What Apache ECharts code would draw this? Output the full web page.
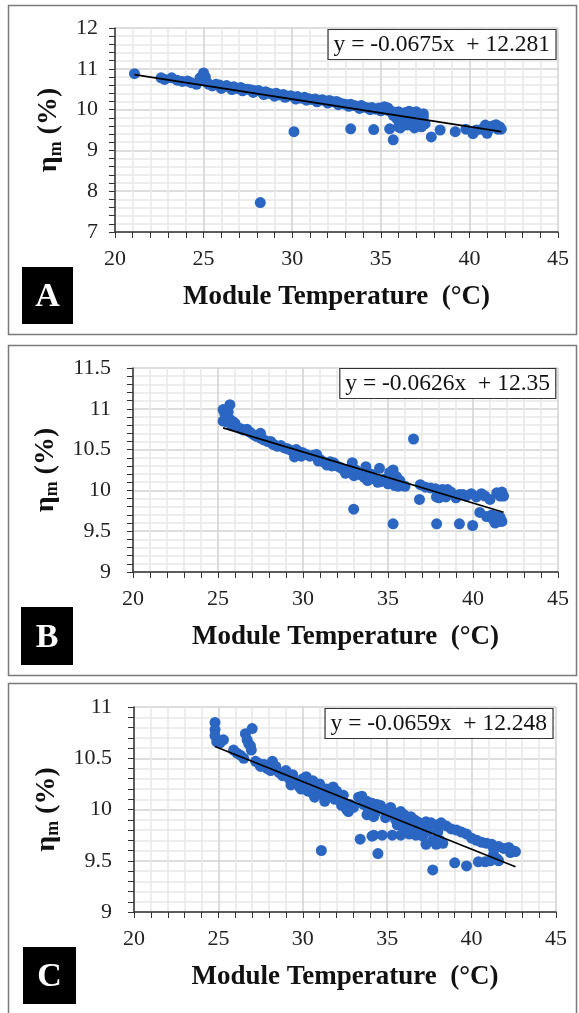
<!DOCTYPE html>
<html>
<head>
<meta charset="utf-8">
<script src="https://cdn.jsdelivr.net/npm/echarts@6/dist/echarts.min.js"></script>
<style>
  html, body { margin: 0; padding: 0; background: #fff; }
  #chart { width: 579px; height: 1013px; }
</style>
</head>
<body>
<div id="chart"></div>
<script>
// panel A: module temperature (C), efficiency (%)
var pointsA = [
  [21.1,10.88],[22.6,10.78],[22.8,10.74],[23.2,10.78],[23.5,10.72],[23.8,10.69],[24.1,10.70],[24.3,10.66],
  [24.6,10.62],[24.8,10.78],[24.9,10.72],[25.0,10.90],[24.95,10.84],[25.1,10.80],[25.2,10.66],[25.3,10.62],
  [25.5,10.58],[25.7,10.62],[25.9,10.60],[26.1,10.56],[26.3,10.59],[26.5,10.54],[26.7,10.56],[26.9,10.52],
  [27.1,10.54],[27.3,10.50],[27.5,10.50],[27.7,10.48],[27.9,10.46],[28.1,10.47],[28.3,10.42],[28.5,10.44],
  [28.7,10.40],[28.9,10.38],[29.1,10.40],[29.3,10.36],[29.5,10.37],[29.7,10.33],[29.9,10.34],[30.1,10.31],
  [30.3,10.32],[30.5,10.28],[30.7,10.30],[30.9,10.27],[31.1,10.25],[31.3,10.26],[31.5,10.22],[31.7,10.24],
  [31.9,10.21],[32.1,10.22],[32.3,10.19],[32.5,10.20],[32.7,10.16],[32.9,10.14],[33.1,10.12],[33.3,10.13],
  [33.5,10.10],[33.7,10.08],[33.9,10.10],[34.1,10.06],[34.3,10.04],[34.5,10.05],[34.7,10.01],[34.9,10.04],
  [35.1,10.02],[35.3,10.05],[35.4,9.98],[35.6,9.96],[35.8,9.92],[36.0,9.95],[36.2,9.90],[36.4,9.93],
  [36.5,9.85],[36.6,9.96],[36.7,9.80],[36.8,9.92],[36.9,9.70],[37.0,9.95],[37.1,9.62],[37.2,9.88],
  [37.3,9.75],[37.4,9.90],[37.5,9.65],[37.3,9.58],[36.9,9.55],[36.5,9.62],[36.2,9.70],[35.9,9.78],
  [36.0,9.58],[37.1,9.80],[36.7,9.65],[37.4,9.82],[36.3,9.82],[35.7,9.86],
  [26.0,10.52],[26.6,10.49],[27.2,10.46],[27.8,10.42],[28.4,10.37],[29.0,10.33],[29.6,10.30],[30.2,10.26],
  [30.8,10.23],[31.4,10.19],[32.0,10.16],[32.6,10.12],[33.2,10.08],[33.8,10.03],[34.4,10.00],[35.0,9.97],
  [35.2,10.07],[35.4,10.04],
  [28.2,7.72],[30.1,9.46],[33.3,9.53],[34.6,9.51],[35.5,9.53],[35.7,9.26],[36.1,9.55],[37.85,9.33],
  [38.35,9.50],[39.2,9.46],[39.8,9.52],[40.2,9.41],[40.4,9.50],[40.7,9.52],[40.9,9.62],[41.0,9.42],
  [41.2,9.56],[41.3,9.60],[41.5,9.63],[41.6,9.52],[41.7,9.58],[41.8,9.52],[40.95,9.48]
];
var pointsB = [
  [25.3,10.99],[25.3,10.85],[25.4,10.94],[25.5,10.91],[25.6,10.96],[25.7,11.05],[25.7,10.87],[25.8,10.80],
  [25.9,10.84],[26.1,10.78],[26.3,10.76],[26.5,10.74],[26.7,10.75],[26.9,10.71],[27.1,10.68],[27.3,10.66],
  [27.5,10.70],[27.5,10.64],[27.7,10.62],[27.9,10.60],[28.1,10.60],[28.3,10.56],[28.5,10.54],[28.7,10.55],
  [28.9,10.52],[29.1,10.51],[29.3,10.49],[29.5,10.41],[29.6,10.50],[29.8,10.47],[30.0,10.46],[30.2,10.44],
  [30.4,10.42],[30.6,10.43],[30.8,10.44],[31.0,10.38],[31.2,10.35],[31.4,10.31],[31.6,10.35],[31.8,10.34],
  [32.0,10.30],[32.2,10.28],[32.4,10.25],[32.6,10.26],[32.8,10.22],[32.9,10.34],[33.0,10.18],[33.2,10.22],
  [33.4,10.19],[33.6,10.16],[33.7,10.29],[33.9,10.18],[34.1,10.15],[34.3,10.13],[34.5,10.27],[34.6,10.11],
  [34.8,10.14],[34.9,10.11],[35.1,10.22],[35.2,10.09],[35.3,10.25],[35.4,10.06],[35.5,10.17],[35.7,10.12],
  [36.0,10.05],[36.5,10.63],[36.85,9.89],[36.9,10.07],[37.2,10.04],[37.5,10.03],[37.8,10.02],[37.85,9.92],
  [38.0,9.91],[38.2,10.01],[38.4,9.92],[38.5,10.01],[38.7,9.98],[39.0,9.91],[39.2,9.95],[39.4,9.95],
  [39.6,9.93],[39.9,9.96],[40.2,9.92],[40.5,9.96],[40.7,9.93],[40.4,9.73],[40.8,9.68],[41.0,9.89],
  [41.1,9.70],[41.2,9.64],[41.3,9.60],[41.4,9.97],[41.5,9.62],[41.6,9.93],[41.6,9.67],[41.7,9.98],
  [41.8,9.93],[41.7,9.62],[41.4,9.68],
  [30.9,10.36],[31.7,10.30],[32.5,10.21],[33.1,10.25],[34.0,10.20],[34.4,10.10],[35.0,10.08],[35.6,10.05],
  [33.8,10.12],[29.9,10.42],[28.2,10.57],[26.0,10.82],[25.5,10.84],
  [32.98,9.77],[35.3,9.59],[37.86,9.59],[39.2,9.59],[39.98,9.57]
];
var pointsC = [
  [24.8,10.85],[24.8,10.78],[24.8,10.72],[24.9,10.66],[25.1,10.65],[25.3,10.68],[25.9,10.58],[26.1,10.55],
  [26.3,10.53],[26.5,10.50],[26.6,10.74],[26.7,10.68],[26.8,10.64],[26.9,10.62],[27.0,10.79],[26.95,10.58],
  [27.2,10.47],[27.4,10.45],[27.5,10.42],[27.7,10.44],[27.9,10.40],[28.1,10.38],[28.2,10.47],[28.4,10.42],
  [28.6,10.36],[28.8,10.33],[29.0,10.38],[29.2,10.30],[29.4,10.34],[29.5,10.27],[29.7,10.25],[29.8,10.22],
  [30.0,10.30],[30.2,10.32],[30.4,10.24],[30.5,10.17],[30.6,10.28],[30.8,10.22],[31.0,10.25],[31.2,10.14],
  [31.4,10.20],[31.6,10.20],[31.8,10.22],[32.0,10.18],[32.2,10.10],[32.4,10.14],[32.5,10.06],[32.6,10.00],
  [32.8,10.05],[33.0,10.02],[33.3,10.12],[33.5,10.13],[33.8,10.08],[33.8,9.95],[33.9,10.00],[34.1,10.06],
  [34.2,9.93],[34.4,10.05],[34.6,10.04],[34.8,10.00],[35.0,9.95],[35.2,10.02],[35.4,9.97],[35.6,9.92],
  [35.8,9.98],[36.0,9.95],[36.2,9.90],[36.4,9.93],[36.6,9.90],[36.8,9.88],[37.0,9.86],[37.3,9.88],
  [37.6,9.87],[37.9,9.85],[38.2,9.87],[38.5,9.84],[38.8,9.81],[39.1,9.80],[39.4,9.78],[39.7,9.76],
  [40.0,9.72],[40.3,9.70],[40.6,9.68],[40.9,9.67],[41.2,9.66],[41.6,9.64],[41.9,9.62],[42.2,9.63],
  [42.4,9.60],[42.6,9.59],[42.3,9.58],
  [29.3,10.24],[29.9,10.20],[30.3,10.18],[30.9,10.15],[31.5,10.12],[31.9,10.10],[32.3,10.04],[32.7,9.98],
  [33.6,10.05],[34.3,9.97],[34.9,9.92],[35.5,9.90],[36.1,9.86],[36.9,9.83],[30.7,10.12],[31.3,10.08],
  [34.2,9.75],[34.7,9.75],[35.3,9.75],[35.8,9.75],[36.3,9.76],[36.7,9.75],[37.1,9.74],[37.3,9.66],
  [37.7,9.70],[37.9,9.66],[38.1,9.70],[38.3,9.67],[36.0,9.82],[35.6,9.85],[36.5,9.82],[37.0,9.80],
  [37.4,9.79],[38.0,9.78],
  [31.1,9.60],[33.4,9.71],[34.1,9.74],[34.45,9.57],[37.7,9.41],[39.0,9.48],[39.7,9.45],[40.4,9.49],
  [40.8,9.49],[41.1,9.50],[41.3,9.56],[41.5,9.52],[41.3,9.62],[41.6,9.50]
];
// trendline coefficients [slope, intercept] as printed
var fitA = [-0.0675, 12.281];
var fitB = [-0.0626, 12.35];
var fitC = [-0.0659, 12.248];
var equations = ["y = -0.0675x  + 12.281", "y = -0.0626x  + 12.35", "y = -0.0659x  + 12.248"];
var letters = ["A", "B", "C"];
var yRanges = [[7, 12, 1], [9, 11.5, 0.5], [9, 11, 0.5]];

var serif = "'Liberation Serif', 'Times New Roman', serif";
var dotColor = "#2b66c2";

function trend(points, fit) {
  var xs = points.map(function (p) { return p[0]; });
  var lo = Math.min.apply(null, xs);
  var hi = Math.max.apply(null, xs);
  return [[lo, fit[0] * lo + fit[1]], [hi, fit[0] * hi + fit[1]]];
}

var grids = [
  { left: 115, top: 28, width: 443, height: 204 },
  { left: 133, top: 368, width: 425, height: 204 },
  { left: 134, top: 707, width: 422, height: 205 }
];
var yNameGap = [46, 64, 63];
var yLabelMargin = [17, 22, 22];

function xAxisFor(i) {
  return {
    type: "value", gridIndex: i, min: 20, max: 45, interval: 5,
    name: "Module Temperature  (\u00B0C)", nameLocation: "middle", nameGap: 52,
    nameTextStyle: { fontFamily: serif, fontWeight: "bold", fontSize: 27, color: "#111" },
    axisLine: { show: true, onZero: false, lineStyle: { color: "#333", width: 1.5 } },
    axisTick: { show: true, length: 6, lineStyle: { color: "#333" } },
    minorTick: { show: true, splitNumber: 5, length: 6, lineStyle: { color: "#333" } },
    axisLabel: { fontFamily: serif, fontSize: 22, color: "#222", margin: 16 },
    splitLine: { show: true, lineStyle: { color: "#d2d2d2", width: 1.5 } },
    minorSplitLine: { show: true, lineStyle: { color: "#e8e8e8", width: 1.5 } }
  };
}

function yAxisFor(i) {
  var r = yRanges[i];
  return {
    type: "value", gridIndex: i, min: r[0], max: r[1], interval: r[2],
    name: "{e|\u03B7}{s|m}{e| (%)}", nameLocation: "middle", nameGap: yNameGap[i], nameRotate: 90,
    nameTextStyle: {
      rich: {
        e: { fontFamily: serif, fontWeight: "bold", fontSize: 28, color: "#111", lineHeight: 32 },
        s: { fontFamily: serif, fontWeight: "bold", fontSize: 18, color: "#111", verticalAlign: "bottom", lineHeight: 20 }
      }
    },
    axisLine: { show: true, onZero: false, lineStyle: { color: "#333", width: 1.5 } },
    axisTick: { show: true, length: 6, lineStyle: { color: "#333" } },
    minorTick: { show: true, splitNumber: 5, length: 6, lineStyle: { color: "#333" } },
    axisLabel: { fontFamily: serif, fontSize: 22, color: "#222", margin: yLabelMargin[i] },
    splitLine: { show: true, lineStyle: { color: "#d2d2d2", width: 1.5 } },
    minorSplitLine: { show: true, lineStyle: { color: "#e8e8e8", width: 1.5 } }
  };
}

var allPoints = [pointsA, pointsB, pointsC];
var fits = [fitA, fitB, fitC];
var series = [];
for (var i = 0; i < 3; i++) {
  series.push({
    type: "scatter", xAxisIndex: i, yAxisIndex: i, data: allPoints[i],
    symbolSize: 11, itemStyle: { color: dotColor, opacity: 1 }, z: 3
  });
  series.push({
    type: "line", xAxisIndex: i, yAxisIndex: i, data: trend(allPoints[i], fits[i]),
    symbol: "none", lineStyle: { color: "#000", width: 1.6 }, z: 4
  });
}

var eqRight = [23, 23, 26];
var eqTop = [29, 368, 708];
var titles = [];
for (var j = 0; j < 3; j++) {
  titles.push({
    text: equations[j], right: eqRight[j], top: eqTop[j],
    padding: [4, 6, 3, 6], borderColor: "#333", borderWidth: 1.2, backgroundColor: "#fff",
    textStyle: { fontFamily: serif, fontWeight: "normal", fontSize: 23.5, color: "#111" }
  });
}

var frames = [[8.5, 5.5, 568, 329], [8.5, 345.5, 568, 330], [8.5, 683.5, 568, 340]];
var boxes = [[22, 267, 51, 57], [21, 607, 52, 58], [23, 947, 53, 57]];
var graphics = [];
frames.forEach(function (f) {
  graphics.push({
    type: "rect", shape: { x: f[0], y: f[1], width: f[2], height: f[3] },
    style: { fill: "none", stroke: "#7a7a7a", lineWidth: 1.5 }, z: 0
  });
});
boxes.forEach(function (b, k) {
  graphics.push({
    type: "rect", shape: { x: b[0], y: b[1], width: b[2], height: b[3] },
    style: { fill: "#000" }, z: 10
  });
  graphics.push({
    type: "text", x: b[0] + b[2] / 2, y: b[1] + b[3] / 2 + 2, z: 11,
    style: {
      text: letters[k], fill: "#fff", font: "bold 34px " + serif,
      textAlign: "center", textVerticalAlign: "middle"
    }
  });
});

var chart = echarts.init(document.getElementById("chart"), null, { renderer: "canvas" });
chart.setOption({
  animation: false,
  backgroundColor: "#fff",
  title: titles,
  grid: grids.map(function (g) { return Object.assign({ outerBoundsMode: "none" }, g); }),
  xAxis: [xAxisFor(0), xAxisFor(1), xAxisFor(2)],
  yAxis: [yAxisFor(0), yAxisFor(1), yAxisFor(2)],
  series: series,
  graphic: graphics
});
</script>
</body>
</html>
